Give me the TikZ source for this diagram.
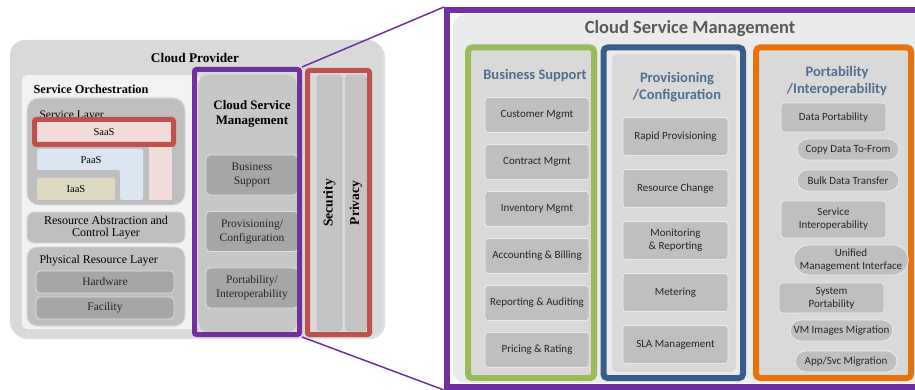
\documentclass[tikz,border=0pt]{standalone}
\usepackage{fontspec}
\setmainfont{Liberation Serif}
\newfontfamily\calibri{Carlito}
\usetikzlibrary{shapes,positioning,calc,shadows}

\definecolor{cpurple}{HTML}{7030A0}
\definecolor{cred}{HTML}{C0504D}
\definecolor{cgreen}{HTML}{9BBB59}
\definecolor{cblue}{HTML}{385D8A}
\definecolor{corange}{HTML}{E8720C}
\definecolor{ctitle}{HTML}{4F6F90}
\definecolor{saaspink}{HTML}{F2DCDB}
\definecolor{paasblue}{HTML}{DCE6F2}
\definecolor{iaastan}{HTML}{DDD9C3}

\tikzstyle{panel} = [rectangle, fill=black!15, rounded corners=15pt]
\tikzstyle{layer} = [rectangle, draw=white!70!gray, line width=0.8pt, fill=black!25, rounded corners=10pt]
\tikzstyle{unit} = [rectangle, draw=white!75!gray, line width=0.8pt, fill=black!35, rounded corners=4pt, align=center, text=black!85, font=\fontsize{11.5}{14}\selectfont]
\tikzstyle{frame} = [rectangle, line width=5pt, rounded corners=2pt]
\tikzstyle{bar} = [rectangle, fill=black!23, draw=black!32, rounded corners=4pt, rotate=90, font=\bfseries\fontsize{13.5}{15}\selectfont]
\tikzstyle{column} = [rectangle, line width=6pt, fill=black!15, rounded corners=4pt]
\tikzstyle{coltitle} = [align=center, text=ctitle, font=\calibri\bfseries\fontsize{14.5}{17.5}\selectfont]
\tikzstyle{item} = [rectangle, draw=white!85!gray, line width=0.8pt, fill=black!25, rounded corners=3pt, align=center, inner sep=1pt, text=black!85, font=\calibri\fontsize{11}{13}\selectfont]
\tikzstyle{pill} = [rounded rectangle, draw=white!85!gray, line width=0.8pt, fill=black!25, align=center, inner sep=1pt, text=black!85, font=\calibri\fontsize{11}{13}\selectfont]

\begin{document}
\begin{tikzpicture}[x=1pt, y=-1pt, node distance=47pt]
    \useasboundingbox (0,0) rectangle (915,390);

    % 云提供者
    \node[panel, drop shadow={shadow xshift=2pt, shadow yshift=-2pt, opacity=0.25}, minimum width=373pt, minimum height=297pt] (provider) at (196.5,188.5) {};
    \node[font=\bfseries\fontsize{13.3}{15}\selectfont] (provider_title) at (195,58) {Cloud Provider};

    % 服务编排
    \node[rectangle, fill=black!5, rounded corners=5pt, minimum width=178pt, minimum height=254pt] (orch) at (111,202) {};
    \node[anchor=west, font=\bfseries\fontsize{12.3}{14}\selectfont] (orch_title) at (30,89) {Service Orchestration};

    % 服务层
    \node[layer, rounded corners=12pt, minimum width=158pt, minimum height=107pt] (svclayer) at (106,151.5) {};
    \node[anchor=west, font=\fontsize{11.5}{13}\selectfont] (svclayer_title) at (36,116) {Service Layer};
    \fill[saaspink] (149,140) rectangle (172,200);
    \fill[paasblue, rounded corners=2pt] (37,149) -- (143,149) -- (143,200) -- (120,200) -- (120,170) -- (37,170) -- cycle;
    \node[font=\fontsize{10.5}{12}\selectfont] (paas) at (91,160) {PaaS};
    \node[rectangle, fill=iaastan, rounded corners=2pt, minimum width=78pt, minimum height=22pt, font=\fontsize{10.5}{12}\selectfont] (iaas) at (76,189) {IaaS};
    \node[frame, draw=cred, fill=saaspink, minimum width=139pt, minimum height=25pt, font=\fontsize{10.5}{12}\selectfont] (saas) at (104,132) {SaaS};

    % 资源抽象与物理资源层
    \node[layer, rounded corners=7pt, minimum width=158pt, minimum height=31pt, align=center, font=\fontsize{12}{12.5}\selectfont] (racl) at (106,227.5) {Resource Abstraction and\\Control Layer};
    \node[layer, minimum width=158pt, minimum height=79pt] (phys) at (106,286.5) {};
    \node[anchor=west, font=\fontsize{11.9}{13}\selectfont] (phys_title) at (36,261) {Physical Resource Layer};
    \node[unit, minimum width=138pt, minimum height=22pt] (hardware) at (105,282) {Hardware};
    \node[unit, minimum width=138pt, minimum height=22pt, below of=hardware, node distance=26pt] (facility) {Facility};

    % 云服务管理（左）
    \node[rectangle, fill=black!22, rounded corners=10pt, minimum width=99pt, minimum height=257pt] (csm_bg) at (247.5,203.5) {};
    \node[align=center, font=\bfseries\fontsize{12.9}{15}\selectfont] (csm_title) at (252,114) {Cloud Service\\Management};
    \node[unit, minimum width=92pt, minimum height=40pt] (bizsup) at (252,175) {Business\\Support};
    \node[unit, minimum width=92pt, minimum height=40pt, below of=bizsup, node distance=56.5pt] (prov) {Provisioning/\\Configuration};
    \node[unit, minimum width=92pt, minimum height=40pt, below of=prov, node distance=56.5pt] (port) {Portability/\\Interoperability};
    \node[frame, draw=cpurple, minimum width=105pt, minimum height=265pt] (csm) at (247,202) {};

    % 安全与隐私
    \node[frame, draw=cred, minimum width=62pt, minimum height=264pt] (secpriv) at (338.5,202.5) {};
    \node[bar, minimum width=256pt, minimum height=25pt] (security) at (329.5,203) {Security};
    \node[bar, minimum width=256pt, minimum height=21pt] (privacy) at (356,203) {Privacy};

    % 云服务管理（右）
    \node[rectangle, fill=black!8, rounded corners=12pt, minimum width=500pt, minimum height=369pt] (bigcsm_bg) at (703,198.5) {};
    \node[text=black!65, font=\calibri\bfseries\fontsize{18.5}{20}\selectfont] (bigcsm_title) at (690,29) {Cloud Service Management};
    \node[rectangle, draw=cpurple, line width=6pt, minimum width=516pt, minimum height=377pt] (bigcsm) at (705,198.5) {};

    % 三列
    \node[column, draw=cgreen, minimum width=126pt, minimum height=330.5pt] (bizcol) at (531,212.75) {};
    \node[column, draw=cblue, fill=black!8, minimum width=139.5pt, minimum height=330.5pt] (provcol) at (673.25,212.75) {};
    \node[rectangle, fill=black!15, rounded corners=6pt, minimum width=124pt, minimum height=318pt] (provcol_bg) at (674,213) {};
    \node[column, draw=corange, minimum width=155pt, minimum height=330.5pt] (portcol) at (833.5,212.75) {};

    \node[coltitle] (bizcol_title) at (535,76) {Business Support};
    \node[coltitle] (provcol_title) at (677,87) {Provisioning\\/Configuration};
    \node[coltitle] (portcol_title) at (837,81) {Portability\\/Interoperability};

    % 业务支持
    \node[item, minimum width=104pt, minimum height=35pt] (cust) at (537,115) {Customer Mgmt};
    \node[item, minimum width=104pt, minimum height=35pt, below of=cust] (contract) {Contract Mgmt};
    \node[item, minimum width=104pt, minimum height=35pt, below of=contract] (inventory) {Inventory Mgmt};
    \node[item, minimum width=104pt, minimum height=35pt, below of=inventory] (accounting) {Accounting \& Billing};
    \node[item, minimum width=104pt, minimum height=35pt, below of=accounting] (reporting) {Reporting \& Auditing};
    \node[item, minimum width=104pt, minimum height=35pt, below of=reporting] (pricing) {Pricing \& Rating};

    % 供应与配置
    \node[item, minimum width=105pt, minimum height=38pt] (rapid) at (675.5,136.5) {Rapid Provisioning};
    \node[item, minimum width=105pt, minimum height=38pt, below of=rapid, node distance=52pt] (reschange) {Resource Change};
    \node[item, minimum width=105pt, minimum height=38pt, below of=reschange, node distance=52pt] (monitor) {Monitoring\\\& Reporting};
    \node[item, minimum width=105pt, minimum height=38pt, below of=monitor, node distance=52pt] (metering) {Metering};
    \node[item, minimum width=105pt, minimum height=38pt, below of=metering, node distance=52pt] (sla) {SLA Management};

    % 可移植性与互操作性
    \node[item, minimum width=105pt, minimum height=29pt] (dataport) at (833.5,117.5) {Data Portability};
    \node[pill, minimum width=104pt, minimum height=21pt] (copydata) at (848,149.5) {Copy Data To-From};
    \node[pill, minimum width=104pt, minimum height=21pt] (bulkdata) at (848,180.5) {Bulk Data Transfer};
    \node[item, minimum width=105pt, minimum height=37pt] (svcinterop) at (833.5,219.5) {Service\\Interoperability};
    \node[pill, minimum width=110pt, minimum height=30pt] (unified) at (851,260) {Unified\\Management Interface};
    \node[item, minimum width=105pt, minimum height=30pt] (sysport) at (831.5,298) {System\\Portability};
    \node[pill, minimum width=105pt, minimum height=21pt] (vmimg) at (841.5,330.5) {VM Images Migration};
    \node[pill, minimum width=104pt, minimum height=21pt] (appsvc) at (846,361.5) {App/Svc Migration};

    % 放大连线
    \draw[cpurple, line width=1.5pt] (csm.north east) -- (bigcsm.north west);
    \draw[cpurple, line width=1.5pt] (csm.south east) -- (bigcsm.south west);
\end{tikzpicture}
\end{document}
